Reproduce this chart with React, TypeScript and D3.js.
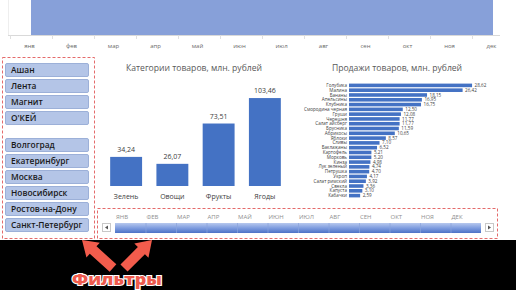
import React from "react";
import * as d3 from "d3";

const monthsLower = ["янв", "фев", "мар", "апр", "май", "июн", "июл", "авг", "сен", "окт", "ноя", "дек"];
const monthsUpper = ["ЯНВ", "ФЕВ", "МАР", "АПР", "МАЙ", "ИЮН", "ИЮЛ", "АВГ", "СЕН", "ОКТ", "НОЯ", "ДЕК"];
const monthlyTotals = [100, 100, 100, 100, 100, 100, 100, 100, 100, 100, 100, 100];

const shops = ["Ашан", "Лента", "Магнит", "О'КЕЙ"];
const cities = ["Волгоград", "Екатеринбург", "Москва", "Новосибирск", "Ростов-на-Дону", "Санкт-Петербург"];

const categories = ["Зелень", "Овощи", "Фрукты", "Ягоды"];
const categoryValues = [34.24, 26.07, 73.51, 103.46];

const products = [
  "Голубика", "Малина", "Бананы", "Апельсины", "Клубника", "Смородина черная", "Груши", "Черешня",
  "Салат айсберг", "Брусника", "Абрикосы", "Яблоки", "Сливы", "Баклажаны", "Картофель", "Морковь",
  "Кинза", "Лук зеленый", "Петрушка", "Укроп", "Салат римский", "Свекла", "Капуста", "Кабачки",
];
const productValues = [
  28.62, 26.42, 18.15, 16.95, 16.75, 12.5, 12.08, 11.77, 11.77, 11.59, 10.65, 8.57, 7.1, 6.52, 5.21, 5.2,
  4.98, 4.74, 4.7, 4.17, 3.92, 3.36, 3.1, 2.59,
];

const fmt = (v: number) => v.toFixed(2).replace(".", ",");
const FONT = "'Open Sans', 'Liberation Sans', sans-serif";

function arrowPath(tail: [number, number], tip: [number, number], shaftW: number, headW: number, headL: number) {
  const dx = tip[0] - tail[0];
  const dy = tip[1] - tail[1];
  const len = Math.hypot(dx, dy);
  const ux = dx / len, uy = dy / len;
  const px = -uy, py = ux;
  const bx = tip[0] - ux * headL, by = tip[1] - uy * headL;
  const pts: [number, number][] = [
    [tail[0] + px * shaftW / 2, tail[1] + py * shaftW / 2],
    [bx + px * shaftW / 2, by + py * shaftW / 2],
    [bx + px * headW / 2, by + py * headW / 2],
    tip,
    [bx - px * headW / 2, by - py * headW / 2],
    [bx - px * shaftW / 2, by - py * shaftW / 2],
    [tail[0] - px * shaftW / 2, tail[1] - py * shaftW / 2],
  ];
  return "M" + pts.map((p) => p.join(",")).join("L") + "Z";
}

export default function App() {
  // top area chart
  const xTop = d3.scaleBand<string>().domain(monthsLower).range([10, 514]);
  const yTop = d3.scaleLinear().domain([0, 100]).range([35, -10]);
  const area = d3
    .area<number>()
    .x((_, i) => (xTop(monthsLower[i]) as number) + xTop.bandwidth() / 2)
    .y0(yTop(0))
    .y1((d) => yTop(d));

  // filter buttons
  const btnY = (group: number, i: number) => (group === 0 ? 63 : 138) + i * 16;

  // category bar chart
  const xCat = d3.scaleBand<string>().domain(categories).range([103, 288]).paddingInner(0.31).paddingOuter(0.155);
  const yCat = d3.scaleLinear().domain([0, 120]).range([186, 84]);

  // product horizontal bars
  const yProd = d3.scaleBand<string>().domain(products).range([83.6, 197.4]).paddingInner(0.25);
  const xProd = d3.scaleLinear().domain([0, 30]).range([349, 478]);

  // timeline
  const xTime = d3.scaleBand<string>().domain(monthsUpper).range([115, 481]);

  return (
    <div style={{ position: "absolute", left: 0, top: 0 }}>
      <svg width={516} height={290} style={{ display: "block", background: "#fff" }} fontFamily={FONT}>
        <defs>
          <linearGradient id="slider" x1="0" y1="0" x2="0" y2="1">
            <stop offset="0" stopColor="#b7c8ee" />
            <stop offset="0.5" stopColor="#7f9ddf" />
            <stop offset="1" stopColor="#4c72c6" />
          </linearGradient>
        </defs>

        {/* top chart */}
        <path d={area(monthlyTotals) || ""} fill="#87a0d9" />
        <line x1={8} x2={500} y1={35.5} y2={35.5} stroke="#d9d9d9" />
        <line x1={8.5} x2={8.5} y1={0} y2={35} stroke="#eeeeee" />
        {monthsLower.map((m) => (
          <line key={"tk" + m} x1={(xTop(m) as number) + 0.5} x2={(xTop(m) as number) + 0.5} y1={35.5} y2={39} stroke="#e0e0e0" />
        ))}
        {monthsLower.map((m) => (
          <text key={m} x={(xTop(m) as number) + xTop.bandwidth() / 2 - 1.5} y={48} fontSize={6} fill="#6a6a6a" textAnchor="middle">
            {m}
          </text>
        ))}

        {/* filter panel */}
        <rect x={2.5} y={57.5} width={92} height={181} fill="none" stroke="#e46b6b" strokeDasharray="3,2" />
        {[shops, cities].map((list, g) =>
          list.map((s, i) => (
            <g key={s}>
              <rect x={5.5} y={btnY(g, i) + 0.5} width={83} height={13} rx={1.5} fill="#b4c5e7" stroke="#9cb0d8" />
              <text x={11} y={btnY(g, i) + 10} fontSize={8.4} fontWeight={600} fill="#1a1a1a">
                {s}
              </text>
            </g>
          ))
        )}

        {/* category bar chart */}
        <text x={194} y={71} fontSize={8.6} fill="#595959" textAnchor="middle">
          Категории товаров, млн. рублей
        </text>
        {categories.map((c, i) => (
          <g key={c}>
            <rect x={xCat(c)} y={yCat(categoryValues[i])} width={xCat.bandwidth()} height={yCat(0) - yCat(categoryValues[i])} fill="#4472c4" />
            <text x={(xCat(c) as number) + xCat.bandwidth() / 2} y={yCat(categoryValues[i]) - 5} fontSize={7} fill="#404040" textAnchor="middle">
              {fmt(categoryValues[i])}
            </text>
            <text x={(xCat(c) as number) + xCat.bandwidth() / 2} y={199} fontSize={7} fill="#404040" textAnchor="middle">
              {c}
            </text>
          </g>
        ))}

        {/* product bar chart */}
        <text x={397} y={71} fontSize={8.6} fill="#595959" textAnchor="middle">
          Продажи товаров, млн. рублей
        </text>
        {products.map((p, i) => (
          <g key={p}>
            <rect x={xProd(0)} y={yProd(p)} width={xProd(productValues[i]) - xProd(0)} height={yProd.bandwidth()} fill="#4472c4" />
            <text x={xProd(0) - 2} y={(yProd(p) as number) + yProd.bandwidth() / 2 + 1.6} fontSize={4.6} fill="#404040" textAnchor="end">
              {p}
            </text>
            <text x={xProd(productValues[i]) + 2.5} y={(yProd(p) as number) + yProd.bandwidth() / 2 + 1.6} fontSize={4.6} fill="#404040">
              {fmt(productValues[i])}
            </text>
          </g>
        ))}

        {/* timeline */}
        <rect x={97.5} y={208.5} width={400} height={30} fill="none" stroke="#e46b6b" strokeDasharray="3,2" />
        {monthsUpper.map((m) => (
          <text key={m} x={(xTime(m) as number) + 1} y={219} fontSize={6} fill="#8f8f8f">
            {m}
          </text>
        ))}
        <rect x={115} y={223} width={366} height={10} fill="url(#slider)" />
        {monthsUpper.slice(1).map((m) => (
          <line key={"d" + m} x1={(xTime(m) as number) + 0.5} x2={(xTime(m) as number) + 0.5} y1={223} y2={233} stroke="#8aa4dc" strokeOpacity={0.7} />
        ))}
        <rect x={102.5} y={223.5} width={8} height={8} fill="#fff" stroke="#c8c8c8" />
        <path d="M108,225.5 L105,227.5 L108,229.5 Z" fill="#555" />
        <rect x={485.5} y={223.5} width={8} height={8} fill="#fff" stroke="#c8c8c8" />
        <path d="M488,225.5 L491,227.5 L488,229.5 Z" fill="#555" />

        {/* black bottom strip with annotation */}
        <rect x={0} y={240} width={516} height={50} fill="#000" />
        <path d={arrowPath([113, 268], [82, 240], 10, 20, 15)} fill="#f25c4c" />
        <path d={arrowPath([124, 268], [152, 240], 10, 20, 15)} fill="#f25c4c" />
        <text
          x={117}
          y={285}
          fontSize={16}
          fontWeight={800}
          fontFamily="'Open Sans', 'DejaVu Sans', sans-serif"
          fill="#ee5a4d"
          stroke="#fff"
          strokeWidth={2.2}
          paintOrder="stroke"
          textAnchor="middle"
          textLength={90}
          lengthAdjust="spacingAndGlyphs"
        >
          Фильтры
        </text>
      </svg>
    </div>
  );
}
